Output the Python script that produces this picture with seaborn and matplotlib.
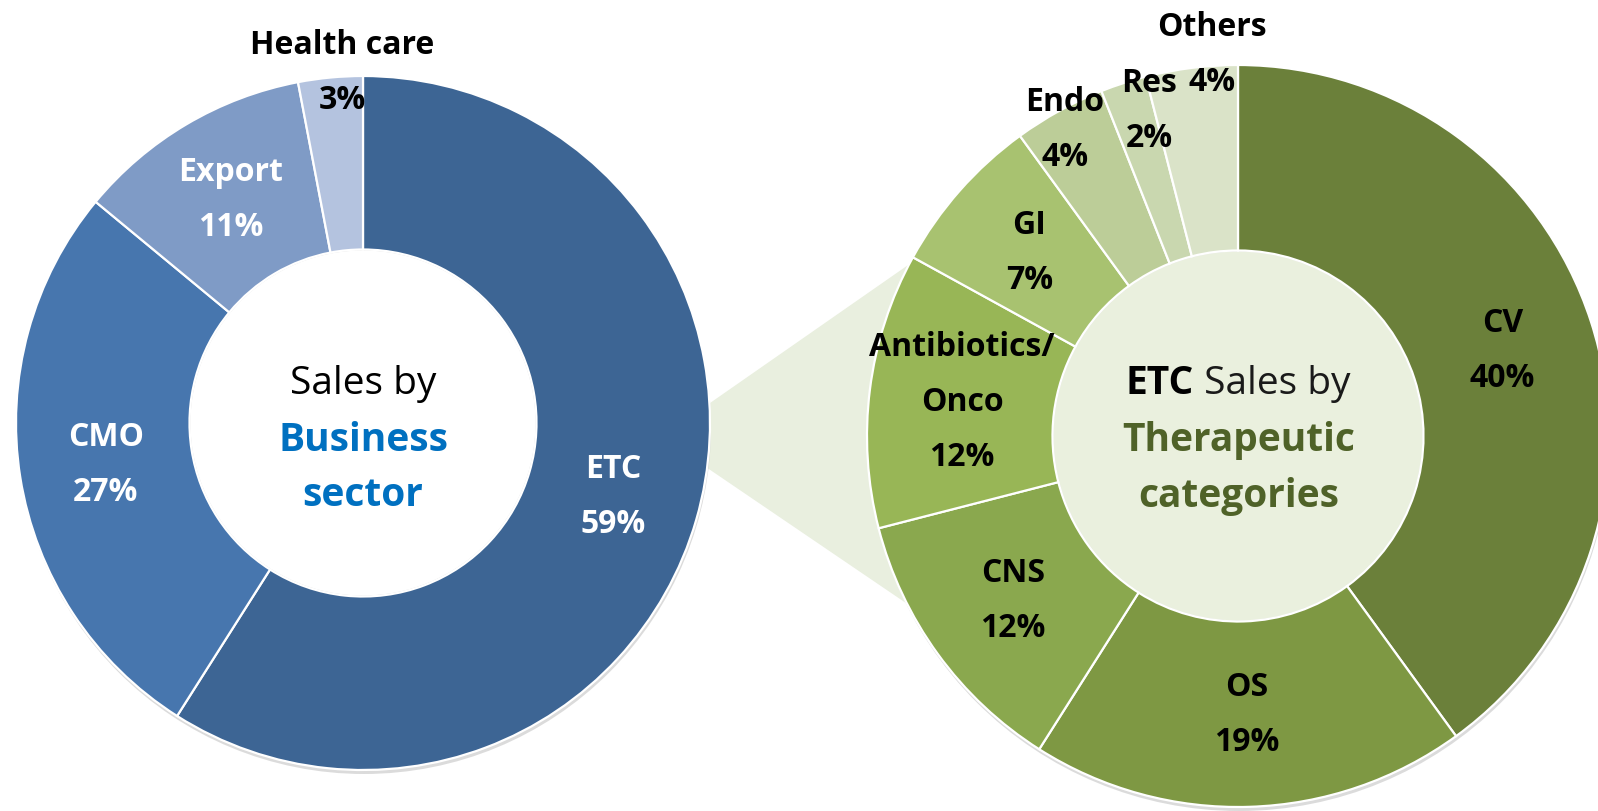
import matplotlib
matplotlib.use('Agg')
import numpy as np
import matplotlib.pyplot as plt
import seaborn as sns
from matplotlib import font_manager
from matplotlib.patches import Circle, Polygon

# data
sector_labels = ['ETC', 'CMO', 'Export', 'Health care']
sector_share = [59, 27, 11, 3]
sector_colors = ['#3D6594', '#4776AE', '#7F9BC6', '#B4C3DF']
sector_text = ['white', 'white', 'white', 'black']

thera_labels = ['CV', 'OS', 'CNS', 'Antibiotics/\nOnco', 'GI', 'Endo', 'Res', 'Others']
thera_share = [40, 19, 12, 12, 7, 4, 2, 4]
thera_colors = ['#6B803A', '#7E9843', '#8AA84E', '#98B656', '#A8C270', '#BCCD98', '#C9D7AF', '#DAE3C8']

sns.set_theme(style='white')

# pick a sans family that really has a bold face installed
bold_fams = {f.name for f in font_manager.fontManager.ttflist
             if (f.weight if isinstance(f.weight, int) else 700 if 'bold' in str(f.weight) else 400) >= 600}
family = next((f for f in ['Open Sans', 'Noto Sans', 'Lato', 'Roboto', 'Liberation Sans']
               if f in bold_fams), 'DejaVu Sans')
plt.rcParams['font.family'] = [family, 'DejaVu Sans']

W, H = 1598, 812
fig = plt.figure(figsize=(W / 100, H / 100), dpi=100)
ax = fig.add_axes([0, 0, 1, 1])

left_c, left_r = (363, H - 424), 347
right_c, right_r = (1238, H - 437), 371

# light green zoom connector between the two donuts
ax.add_patch(Polygon([(700, H - 411), (1000, H - 202), (1000, H - 668), (700, H - 464)],
                     closed=True, facecolor='#E9EFDF', lw=0, zorder=0.5))

# soft shadows
for c, r in [(left_c, left_r), (right_c, right_r)]:
    ax.add_patch(Circle((c[0] + 1, c[1] - 4), r, color='#9a9a9a', alpha=0.35, lw=0, zorder=0.8))

wedge_kw = dict(edgecolor='white', linewidth=1.6)
w_left, _ = ax.pie(sector_share, colors=sector_colors, startangle=90, counterclock=False,
                   center=left_c, radius=left_r,
                   wedgeprops=dict(width=left_r * 0.5, **wedge_kw))
w_right, _ = ax.pie(thera_share, colors=thera_colors, startangle=90, counterclock=False,
                    center=right_c, radius=right_r,
                    wedgeprops=dict(width=right_r * 0.5, **wedge_kw))
for w in list(w_left) + list(w_right):
    w.set_zorder(2)

ax.add_patch(Circle(left_c, left_r * 0.5 - 1, facecolor='white', lw=0, zorder=1.5))
ax.add_patch(Circle(right_c, right_r * 0.5 - 1, facecolor='#EAF0DE', lw=0, zorder=1.5))

ax.set_xlim(0, W)
ax.set_ylim(0, H)
ax.set_aspect('equal')
ax.axis('off')

step = 55
lab_size = 23


def label_ring(wedges, names, values, center, radius, colors, overrides):
    for w, name, v, col in zip(wedges, names, values, colors):
        if name in overrides:
            x, y = overrides[name]
            y = H - y
        else:
            ang = np.deg2rad((w.theta1 + w.theta2) / 2)
            x = center[0] + 0.75 * radius * np.cos(ang)
            y = center[1] + 0.75 * radius * np.sin(ang)
        lines = name.split('\n') + [f'{v}%']
        n = len(lines)
        for i, line in enumerate(lines):
            ax.text(x, y + (n - 1) / 2 * step - i * step, line, ha='center', va='center',
                    fontsize=lab_size, fontweight='bold', color=col, zorder=5)


label_ring(w_left, sector_labels, sector_share, left_c, left_r, sector_text,
           {'Health care': (342, 73)})
label_ring(w_right, thera_labels, thera_share, right_c, right_r, ['black'] * len(thera_labels),
           {'Endo': (1065, 130), 'Res': (1149, 111), 'Others': (1212, 55)})

# centre titles
ctr = 28
ax.text(363, H - 384, 'Sales by', ha='center', va='center', fontsize=ctr, color='black', zorder=5)
ax.text(363, H - 441, 'Business', ha='center', va='center', fontsize=ctr, fontweight='bold',
        color='#0070C0', zorder=5)
ax.text(363, H - 496, 'sector', ha='center', va='center', fontsize=ctr, fontweight='bold',
        color='#0070C0', zorder=5)

t1 = ax.text(0, H - 384, 'ETC', ha='left', va='center', fontsize=ctr, fontweight='bold',
             color='black', zorder=5)
t2 = ax.text(0, H - 384, ' Sales by', ha='left', va='center', fontsize=ctr, color='#1a1a1a', zorder=5)
fig.canvas.draw()
r = fig.canvas.get_renderer()
w1 = t1.get_window_extent(r).width
w2 = t2.get_window_extent(r).width
x0 = right_c[0] - (w1 + w2) / 2
t1.set_x(x0)
t2.set_x(x0 + w1)
ax.text(1239, H - 441, 'Therapeutic', ha='center', va='center', fontsize=ctr, fontweight='bold',
        color='#4F6228', zorder=5)
ax.text(1239, H - 496, 'categories', ha='center', va='center', fontsize=ctr, fontweight='bold',
        color='#4F6228', zorder=5)

fig.savefig('out.png', dpi=100, facecolor='white')
